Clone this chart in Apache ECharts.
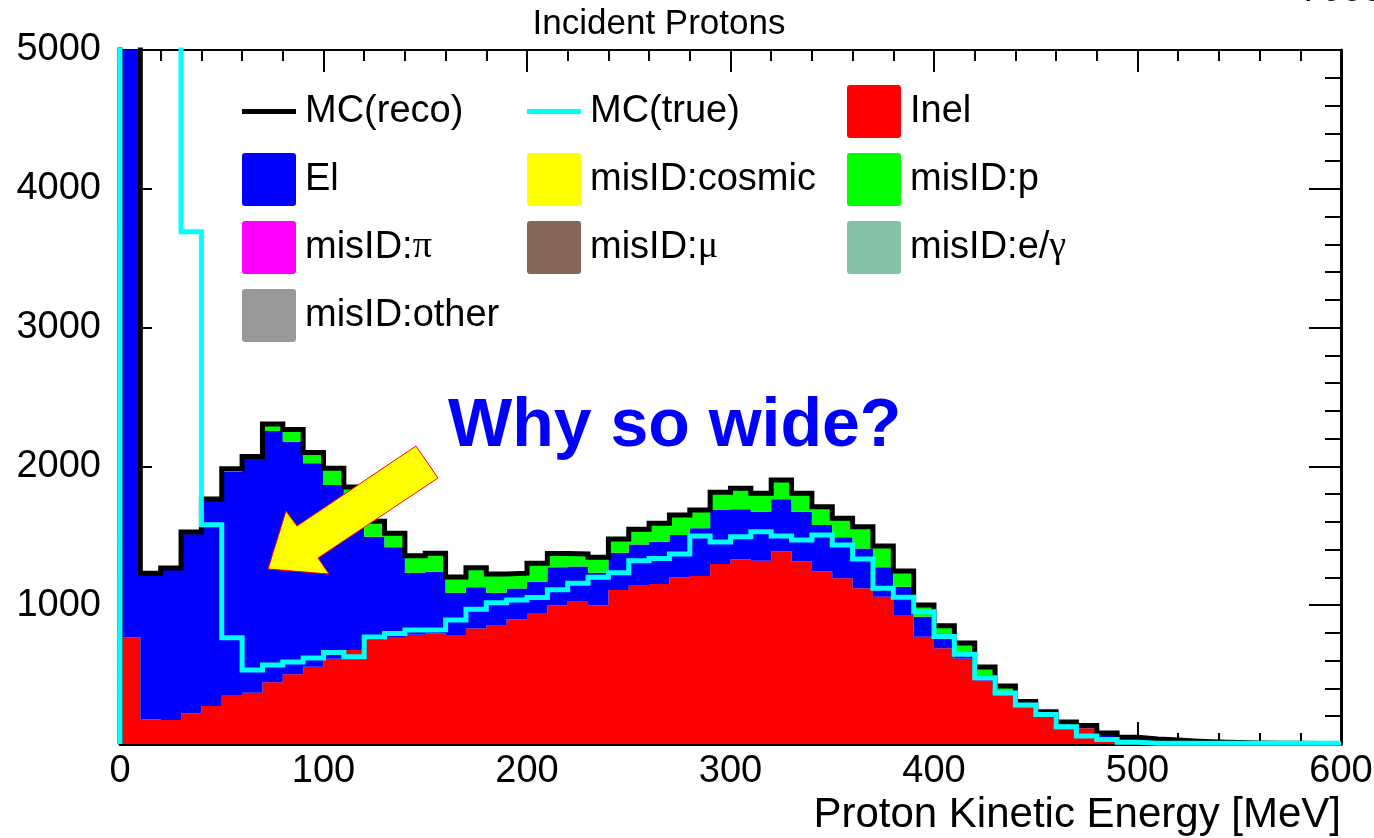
<!DOCTYPE html>
<html>
<head>
<meta charset="utf-8">
<script src="https://cdn.jsdelivr.net/npm/echarts@6/dist/echarts.min.js"></script>
<style>
  html, body { margin: 0; padding: 0; background: #ffffff; }
  #chart { width: 1374px; height: 838px; }
</style>
</head>
<body>
<div id="chart"></div>
<script>
// Histogram binning: 60 bins of 10 MeV from 0 to 600 MeV
const BIN_WIDTH = 10;
const N_BINS = 60;
const binLow = Array.from({ length: N_BINS }, (_, i) => i * BIN_WIDTH);

// Stacked components (events per bin)
const inel = [769,178,173,221,274,348,370,445,502,557,615,677,750,765,788,797,786,833,857,899,
              938,1000,1030,997,1110,1146,1153,1201,1210,1297,1331,1321,1386,1314,1242,1194,1122,1061,929,773,
              689,615,458,350,265,190,104,113,31,8,3,0,0,0,0,0,0,0,0,0];
const el = [8231,1052,1095,1306,1491,1615,1687,1810,1676,1465,1251,1093,744,652,446,444,304,296,233,221,
            231,273,248,237,268,292,305,305,344,389,360,353,377,360,336,295,286,212,204,144,
            108,38,39,27,20,22,36,5,39,30,27,25,17,12,8,6,5,4,3,3];
const misIDp = [0,0,0,0,0,20,15,50,87,78,120,82,111,101,122,134,114,141,135,111,
                134,99,91,111,99,109,132,144,132,127,151,132,139,132,132,137,158,154,113,84,
                55,74,58,41,22,21,18,16,10,10,6,4,3,2,2,2,1,1,1,1];

// Reconstructed total and true-energy spectrum
const mcReco = [9000,1230,1268,1527,1765,1983,2072,2305,2265,2100,1986,1852,1605,1518,1356,1375,1204,1270,1225,1231,
                1303,1372,1369,1345,1477,1547,1590,1650,1686,1813,1842,1806,1902,1806,1710,1626,1566,1427,1246,1001,
                852,727,555,418,307,233,158,134,80,48,36,29,20,14,10,8,6,5,4,4];
const mcTrue = [9500,8000,6000,3690,1580,765,533,569,590,620,660,629,771,797,821,823,893,970,1018,1037,
                1055,1112,1158,1201,1234,1321,1336,1369,1499,1455,1494,1530,1499,1470,1506,1434,1333,1122,1057,953,
                775,647,477,368,281,212,125,58,33,12,5,5,5,5,5,5,5,5,5,5];

const FONT = '"Liberation Sans", Arial, Helvetica, sans-serif';
const BLACK = '#000000';

// cumulative layer boundaries for the stack
const zeroBase = inel.map(() => 0);
const inelTop = inel.slice();
const elTop = inel.map((v, i) => v + el[i]);
const pTop = elTop.map((v, i) => v + misIDp[i]);

function layerRenderer(lower, upper) {
  return function (params, api) {
    const cs = params.coordSys;
    const yTop = cs.y, yBot = cs.y + cs.height;
    const clampY = y => Math.max(yTop, Math.min(yBot, y));
    const pts = [];
    for (let i = 0; i < N_BINS; i++) {
      const a = api.coord([binLow[i], upper[i]]);
      const b = api.coord([binLow[i] + BIN_WIDTH, upper[i]]);
      pts.push([a[0], clampY(a[1])], [b[0], clampY(b[1])]);
    }
    for (let i = N_BINS - 1; i >= 0; i--) {
      const b = api.coord([binLow[i] + BIN_WIDTH, lower[i]]);
      const a = api.coord([binLow[i], lower[i]]);
      pts.push([b[0], clampY(b[1])], [a[0], clampY(a[1])]);
    }
    return { type: 'polygon', shape: { points: pts }, style: { fill: api.visual('color') }, silent: true };
  };
}

function stackLayer(name, color, lower, upper) {
  return {
    type: 'custom', name: name, itemStyle: { color: color },
    data: [[0, 0]], encode: { x: 0, y: 1 },
    renderItem: layerRenderer(lower, upper), z: 2, silent: true
  };
}

function emptyLayer(name, color) {
  return { type: 'custom', name: name, itemStyle: { color: color }, data: [], renderItem: () => null };
}

function stepPoints(values) {
  const pts = [[0, 0]];
  values.forEach((v, i) => pts.push([binLow[i], v]));
  pts.push([binLow[N_BINS - 1] + BIN_WIDTH, values[N_BINS - 1]]);
  return pts;
}

function stepLine(name, color, values, z) {
  return {
    type: 'line', name: name, step: 'end', data: stepPoints(values),
    showSymbol: false, symbol: 'none', clip: true, z: z, silent: true,
    itemStyle: { color: color },
    lineStyle: { color: color, width: 5, join: 'miter', cap: 'butt' }
  };
}

// legend glyphs: a short thick bar for lines, a slightly rounded box for fills
const LINE_ICON = 'path://M0,0M54,53M0,24L54,24L54,29L0,29Z';
const BOX_ICON = 'path://M3,0L51,0Q54,0 54,3L54,50Q54,53 51,53L3,53Q0,53 0,50L0,3Q0,0 3,0Z';

function legendColumn(left, items) {
  return {
    orient: 'vertical', left: left, top: 85, padding: 0,
    itemWidth: 54, itemHeight: 53, itemGap: 15,
    selectedMode: false,
    itemStyle: { borderWidth: 0 },
    textStyle: {
      fontFamily: FONT, fontSize: 38, color: BLACK, padding: [0, 0, 0, 4],
      rich: { g: { fontFamily: '"Liberation Serif", "DejaVu Serif", serif', fontSize: 38, color: BLACK } }
    },
    formatter: name => name.replace(/([πμγ])/g, '{g|$1}'),
    data: items
  };
}

function frameAxis(extra) {
  return Object.assign({
    type: 'value',
    splitLine: { show: false },
    axisLine: { show: true, onZero: false, lineStyle: { color: BLACK, width: 3 } },
    axisTick: { show: true, inside: true, lineStyle: { color: BLACK, width: 2 } },
    minorTick: { show: true, splitNumber: 5, lineStyle: { color: BLACK, width: 2 } },
    minorSplitLine: { show: false }
  }, extra);
}

const xCommon = { min: 0, max: 600, interval: 100 };
const yCommon = { min: 0, max: 5000, interval: 1000 };

const option = {
  animation: false,
  backgroundColor: '#ffffff',
  textStyle: { fontFamily: FONT },
  grid: { left: 120, right: 33, top: 50, bottom: 94, containLabel: false, outerBoundsMode: 'none' },
  xAxis: [
    frameAxis(Object.assign({}, xCommon, {
      position: 'bottom',
      axisTick: { show: true, inside: true, length: 22, lineStyle: { color: BLACK, width: 2 } },
      minorTick: { show: true, splitNumber: 5, length: 11, lineStyle: { color: BLACK, width: 2 } },
      axisLabel: { show: true, fontFamily: FONT, fontSize: 38, color: BLACK, margin: 9 }
    })),
    frameAxis(Object.assign({}, xCommon, {
      position: 'top',
      axisLine: { show: true, onZero: false, lineStyle: { color: BLACK, width: 2 } },
      axisTick: { show: true, inside: true, length: 22, lineStyle: { color: BLACK, width: 2 } },
      minorTick: { show: true, splitNumber: 5, length: 11, lineStyle: { color: BLACK, width: 2 } },
      axisLabel: { show: false }
    }))
  ],
  yAxis: [
    frameAxis(Object.assign({}, yCommon, {
      position: 'left',
      axisLine: { show: true, onZero: false, lineStyle: { color: '#808080', width: 2 } },
      axisTick: { show: true, inside: true, length: 32, lineStyle: { color: BLACK, width: 2 } },
      minorTick: { show: true, splitNumber: 5, length: 16, lineStyle: { color: BLACK, width: 2 } },
      axisLabel: { show: true, fontFamily: FONT, fontSize: 38, color: BLACK, margin: 19,
                   formatter: v => (v === 0 ? '' : String(v)) }
    })),
    frameAxis(Object.assign({}, yCommon, {
      position: 'right',
      axisTick: { show: true, inside: true, length: 32, lineStyle: { color: BLACK, width: 2 } },
      minorTick: { show: true, splitNumber: 5, length: 16, lineStyle: { color: BLACK, width: 2 } },
      axisLabel: { show: false }
    }))
  ],
  legend: [
    legendColumn(242, [
      { name: 'MC(reco)', icon: LINE_ICON }, { name: 'El', icon: BOX_ICON },
      { name: 'misID:π', icon: BOX_ICON }, { name: 'misID:other', icon: BOX_ICON }
    ]),
    legendColumn(527, [
      { name: 'MC(true)', icon: LINE_ICON }, { name: 'misID:cosmic', icon: BOX_ICON },
      { name: 'misID:μ', icon: BOX_ICON }
    ]),
    legendColumn(847, [
      { name: 'Inel', icon: BOX_ICON }, { name: 'misID:p', icon: BOX_ICON },
      { name: 'misID:e/γ', icon: BOX_ICON }
    ])
  ],
  series: [
    stackLayer('Inel', '#ff0000', zeroBase, inelTop),
    stackLayer('El', '#0000ff', inelTop, elTop),
    stackLayer('misID:p', '#00ff00', elTop, pTop),
    emptyLayer('misID:cosmic', '#ffff00'),
    emptyLayer('misID:π', '#ff00ff'),
    emptyLayer('misID:μ', '#876657'),
    emptyLayer('misID:e/γ', '#85c2a3'),
    emptyLayer('misID:other', '#999999'),
    stepLine('MC(reco)', BLACK, mcReco, 3),
    stepLine('MC(true)', '#00ffff', mcTrue, 4)
  ],
  graphic: [
    { type: 'text', z: 100, silent: true,
      style: { text: 'Incident Protons', x: 659, y: 24, align: 'center', verticalAlign: 'middle',
               font: '35px ' + FONT, fill: BLACK } },
    { type: 'text', z: 100, silent: true,
      style: { text: '7000', x: 1302, y: -9, align: 'left', verticalAlign: 'middle',
               font: 'italic 37px ' + FONT, fill: BLACK } },
    { type: 'text', z: 100, silent: true,
      style: { text: 'Proton Kinetic Energy [MeV]', x: 1341, y: 815, align: 'right', verticalAlign: 'middle',
               font: '42px ' + FONT, fill: BLACK } },
    { type: 'polygon', z: 100, silent: true,
      shape: { points: [[268, 569], [286, 511], [297, 526], [416, 446], [438, 478], [318, 558], [329, 574]] },
      style: { fill: '#ffff00', stroke: '#ff0000', lineWidth: 1 } },
    { type: 'text', z: 100, silent: true,
      style: { text: 'Why so wide?', x: 448, y: 427, align: 'left', verticalAlign: 'middle',
               font: 'bold 68px ' + FONT, fill: '#0000ff' } }
  ]
};

const chart = echarts.init(document.getElementById('chart'), null, { renderer: 'canvas' });
chart.setOption(option);
</script>
</body>
</html>
